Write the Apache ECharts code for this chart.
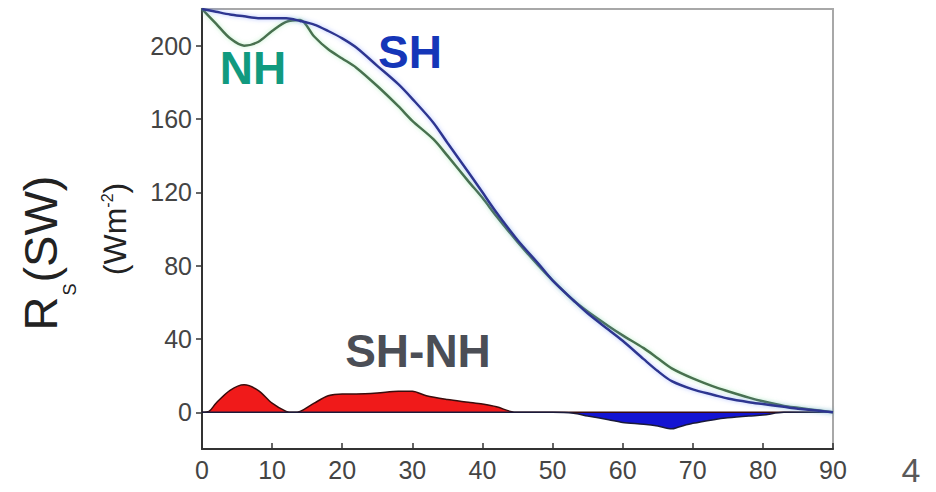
<!DOCTYPE html>
<html>
<head>
<meta charset="utf-8">
<script src="https://cdn.jsdelivr.net/npm/echarts@6/dist/echarts.min.js"></script>
<style>
  html, body { margin: 0; padding: 0; background: #fff; }
  #main { width: 936px; height: 492px; }
</style>
</head>
<body>
<div id="main"></div>
<script>
// latitude (deg) and reflected SW (Wm-2)
var lat = [0, 2, 4, 6, 8, 10, 12, 14, 16, 18, 20, 22, 25, 28, 30, 33, 35, 38, 40, 42, 45, 48, 50, 53, 55, 58, 60, 63, 65, 67, 70, 73, 75, 78, 80, 83, 85, 88, 90];
var shVals = [220, 218.5, 217, 216, 215, 215, 215, 213.5, 211.5, 208, 204, 199, 189, 179, 171, 158, 147, 131, 120, 109, 94, 81, 72, 61, 54, 45, 39, 29, 22.5, 17, 12.5, 9.5, 7.5, 5.5, 4.5, 3, 2, 0.8, 0];
var nhVals = [220, 212, 204, 200, 202, 208, 213, 214, 205, 198, 193, 188, 178, 167, 159, 149, 140, 126, 117, 107, 93, 80, 72, 61, 55, 47, 42, 35, 29.5, 24, 18.5, 14, 11.5, 8, 6, 3.5, 2.5, 1, 0];

// SH-NH difference
var diffLat = [0, 1, 2, 4, 6, 8, 10, 12, 13, 14, 16, 18, 20, 22, 25, 28, 30, 32, 35, 38, 40, 42, 44, 45, 50, 53, 55, 58, 60, 63, 65, 67, 68, 70, 73, 75, 78, 80, 83, 85, 90];
var diffVals = [0, 0.5, 5, 12, 15, 12, 5, 0.5, 0, 0.5, 5, 9, 10, 10, 10.5, 11.5, 11.5, 9, 7, 5.5, 4.5, 3, 0.5, 0, 0, -0.5, -2, -4, -5.5, -6.5, -7.5, -9, -8, -6, -4, -3, -2, -1.5, 0, 0, 0];

var yTicks = [0, 40, 80, 120, 160, 200];

function pairs(xs, ys) {
    return xs.map(function (x, i) { return [x, ys[i]]; });
}
var posPart = diffLat.map(function (x, i) { return [x, Math.max(diffVals[i], 0)]; });
var negPart = diffLat.map(function (x, i) { return [x, Math.min(diffVals[i], 0)]; });

var myChart = echarts.init(document.getElementById('main'), null, {renderer: 'svg'});

var option = {
    animation: false,
    backgroundColor: '#fff',
    grid: {
        left: 202, right: 103, top: 9, bottom: 43,
        show: true,
        borderColor: '#a8a8a8',
        borderWidth: 2
    },
    xAxis: {
        type: 'value',
        min: 0, max: 90, interval: 10,
        axisLine: {onZero: false, lineStyle: {color: '#333', width: 2}},
        axisTick: {inside: true, length: 6, lineStyle: {color: '#333', width: 1.5}},
        axisLabel: {fontSize: 25, color: '#444', margin: 8, fontFamily: 'Liberation Sans'},
        splitLine: {show: false}
    },
    yAxis: {
        type: 'value',
        min: -20, max: 220,
        axisLine: {show: true, lineStyle: {color: '#333', width: 2}},
        axisTick: {show: true, length: 6, customValues: yTicks, lineStyle: {color: '#333', width: 1.5}},
        axisLabel: {fontSize: 25, color: '#444', margin: 10, customValues: yTicks, fontFamily: 'Liberation Sans'},
        splitLine: {show: false}
    },
    graphic: [
        {type: 'text', x: 253, y: 68, style: {text: 'NH', fill: '#119a7f', font: 'bold 46px "Liberation Sans"', align: 'center', verticalAlign: 'middle'}},
        {type: 'text', x: 410, y: 52, style: {text: 'SH', fill: '#1536b8', font: 'bold 46px "Liberation Sans"', align: 'center', verticalAlign: 'middle'}},
        {type: 'text', x: 418, y: 351, style: {text: 'SH-NH', fill: '#4b4e56', font: 'bold 46px "Liberation Sans"', align: 'center', verticalAlign: 'middle'}},
        {type: 'text', x: 911, y: 470, style: {text: '4', fill: '#595959', font: '34px "Liberation Sans"', align: 'center', verticalAlign: 'middle'}},
        {
            // y axis title, subscript pushed below the baseline
            type: 'text', x: 42, y: 253, rotation: Math.PI / 2,
            style: {
                text: '{a|R}{s|S}{a|(SW)}',
                align: 'center', verticalAlign: 'middle',
                rich: {
                    a: {fontSize: 47, lineHeight: 50, fontFamily: 'Liberation Sans', fill: '#222', color: '#222', verticalAlign: 'top'},
                    s: {fontSize: 18, lineHeight: 18, fontFamily: 'Liberation Sans', fill: '#222', color: '#222', verticalAlign: 'top', padding: [44, 1, 0, 1]}
                }
            }
        },
        {
            type: 'text', x: 115, y: 229, rotation: Math.PI / 2,
            style: {
                text: '{a|(Wm}{p|-2}{a|)}',
                align: 'center', verticalAlign: 'middle',
                rich: {
                    a: {fontSize: 32, fontFamily: 'Liberation Sans', fill: '#222', color: '#222'},
                    p: {fontSize: 16, fontFamily: 'Liberation Sans', fill: '#222', color: '#222', verticalAlign: 'top'}
                }
            }
        }
    ],
    series: [
        {
            name: 'SH-NH +',
            type: 'line',
            data: posPart,
            symbol: 'none',
            smooth: 0.3,
            lineStyle: {color: '#3a0c0c', width: 1.5},
            areaStyle: {color: '#f01a1a', opacity: 1}
        },
        {
            name: 'SH-NH -',
            type: 'line',
            data: negPart,
            symbol: 'none',
            smooth: 0.3,
            lineStyle: {color: '#1a1a3a', width: 1.5},
            areaStyle: {color: '#1414d2', opacity: 1}
        },
        {
            name: 'NH',
            type: 'line',
            data: pairs(lat, nhVals),
            symbol: 'none',
            smooth: 0.3,
            lineStyle: {color: '#48704f', width: 2.5, shadowColor: 'rgba(120,220,140,0.5)', shadowBlur: 4}
        },
        {
            name: 'SH',
            type: 'line',
            data: pairs(lat, shVals),
            symbol: 'none',
            smooth: 0.3,
            lineStyle: {color: '#2f3690', width: 2.5, shadowColor: 'rgba(100,130,255,0.5)', shadowBlur: 4}
        }
    ]
};

myChart.setOption(option);
</script>
</body>
</html>
